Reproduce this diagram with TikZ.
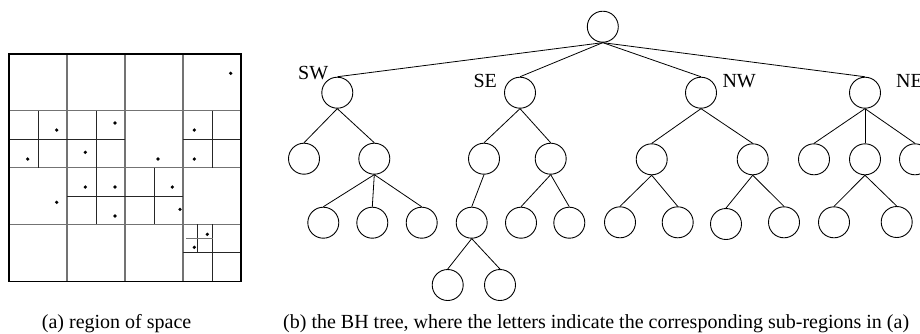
\documentclass[tikz,border=0pt]{standalone}
\usepackage{fontspec}
\setmainfont{Liberation Serif}
\begin{document}
\begin{tikzpicture}[x=1pt,y=-1pt,
  tn/.style={circle,draw,line width=0.9pt,minimum size=31pt,inner sep=0pt},
  edge/.style={line width=0.8pt},
  lbl/.style={inner sep=0pt,anchor=base west,font=\fontsize{20}{24}\selectfont},
  major/.style={draw=black!55,line width=1.1pt},
  minor/.style={draw=black!85,line width=0.8pt},
  pt/.style={fill=black}]
\useasboundingbox (0,0) rectangle (920,333);
% ---------- region of space ----------
\draw[major] (67,54) -- (67,281.3) (125,54) -- (125,281.3) (183,54) -- (183,281.3);
\draw[major] (9,110.7) -- (241,110.7) (9,167.7) -- (241,167.7) (9,224.3) -- (241,224.3);
\draw[minor] (38,110.7) -- (38,167.7) (96,110.7) -- (96,167.7) (9,139.2) -- (125,139.2);
\draw[minor] (212,110.7) -- (212,167.7) (183,139.2) -- (241,139.2);
\draw[minor] (96,167.7) -- (96,224.3) (154,167.7) -- (154,224.3) (67,196) -- (183,196);
\draw[minor] (212,224.3) -- (212,281.3) (183,252.8) -- (241,252.8);
\draw[minor] (197.7,224.3) -- (197.7,253);
\draw[major] (186,238.7) -- (213.3,238.7);
\draw[line width=1.4pt] (9,54) rectangle (241,281.3);
\foreach \p in {(230.7,73.3),(56.7,130),(115,123),(194.3,130),(27.7,159),(85.3,152.3),
  (158,159),(194.3,159),(56.7,202.3),(85.3,187),(115,187),(172.3,187),(180,209.3),
  (115,216),(207.3,234.3),(194.3,247.3)}
  \fill \p circle (1.8pt);
% ---------- tree ----------
\node[tn] (r) at (602.8,26.7) {};
\node[tn] (sw) at (337.3,92.7) {};
\node[tn] (se) at (520,92.7) {};
\node[tn] (nw) at (701,92.7) {};
\node[tn] (ne) at (865,92.7) {};
\node[tn] (sw1) at (304,158.7) {};
\node[tn] (sw2) at (374.3,158.7) {};
\node[tn] (sw2a) at (323.3,222.7) {};
\node[tn] (sw2b) at (372.3,222.7) {};
\node[tn] (sw2c) at (421.7,222.7) {};
\node[tn] (se1) at (484,158.7) {};
\node[tn] (se2) at (550.7,158.7) {};
\node[tn] (se1a) at (471.7,222.7) {};
\node[tn] (se1aa) at (447.7,285) {};
\node[tn] (se1ab) at (500,285) {};
\node[tn] (se2a) at (521,222.7) {};
\node[tn] (se2b) at (569.3,222.7) {};
\node[tn] (nw1) at (651.7,159.3) {};
\node[tn] (nw2) at (752.7,159.3) {};
\node[tn] (nw1a) at (620,222.3) {};
\node[tn] (nw1b) at (677.7,222.3) {};
\node[tn] (nw2a) at (726,224) {};
\node[tn] (nw2b) at (784,222.3) {};
\node[tn] (ne1) at (814,159.3) {};
\node[tn] (ne2) at (865,159.3) {};
\node[tn] (ne3) at (915,159.3) {};
\node[tn] (ne2a) at (834,222.3) {};
\node[tn] (ne2b) at (896.7,222) {};
\foreach \a/\b in {r/sw,r/se,r/nw,r/ne,sw/sw1,sw/sw2,sw2/sw2a,sw2/sw2b,sw2/sw2c,
  se/se1,se/se2,se1/se1a,se1a/se1aa,se1a/se1ab,se2/se2a,se2/se2b,
  nw/nw1,nw/nw2,nw1/nw1a,nw1/nw1b,nw2/nw2a,nw2/nw2b,
  ne/ne1,ne/ne2,ne/ne3,ne2/ne2a,ne2/ne2b}
  \draw[edge] (\a.south) -- (\b.north);
\node[lbl] (lsw) at (298,79) {SW};
\node[lbl] (lse) at (473.3,87) {SE};
\node[lbl] (lnw) at (722.3,87) {NW};
\node[lbl] (lne) at (896,87) {NE};
% ---------- captions ----------
\node[lbl] (capa) at (41.7,328) {(a) region of space};
\node[lbl] (capb) at (283,328) {(b) the BH tree, where the letters indicate the corresponding sub-regions in (a)};
\end{tikzpicture}
\end{document}
